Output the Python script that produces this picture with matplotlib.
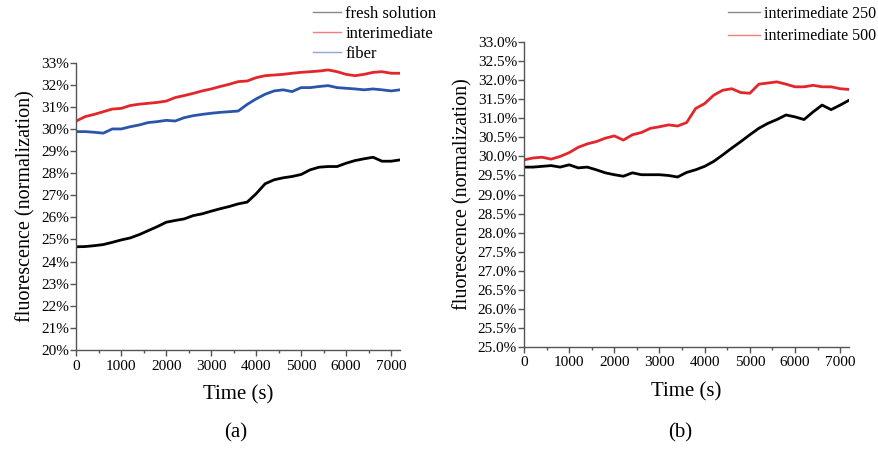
import matplotlib

matplotlib.use("Agg")

import matplotlib.pyplot as plt
from matplotlib.lines import Line2D
from matplotlib.ticker import FuncFormatter, MultipleLocator

# 数据（每 200 s 一个点，单位 %）
TIME_S = list(range(0, 7201, 200))

# 图 (a)
FRESH_SOLUTION = [24.67, 24.68, 24.72, 24.77, 24.87, 24.98, 25.07, 25.22, 25.40, 25.58,
                  25.78, 25.86, 25.93, 26.08, 26.16, 26.28, 26.39, 26.49, 26.61, 26.69,
                  27.07, 27.52, 27.70, 27.79, 27.85, 27.94, 28.15, 28.27, 28.30, 28.30,
                  28.45, 28.57, 28.65, 28.72, 28.54, 28.54, 28.60]
INTERIMEDIATE = [30.36, 30.56, 30.66, 30.78, 30.90, 30.93, 31.06, 31.12, 31.16, 31.20,
                 31.26, 31.42, 31.51, 31.61, 31.72, 31.81, 31.92, 32.02, 32.14, 32.17,
                 32.32, 32.41, 32.44, 32.47, 32.52, 32.56, 32.59, 32.62, 32.67, 32.59,
                 32.47, 32.41, 32.47, 32.56, 32.59, 32.52, 32.52]
FIBER = [29.88, 29.88, 29.85, 29.81, 30.00, 30.00, 30.10, 30.18, 30.29, 30.33,
         30.39, 30.36, 30.51, 30.60, 30.66, 30.71, 30.75, 30.78, 30.81, 31.11,
         31.36, 31.57, 31.72, 31.77, 31.69, 31.87, 31.87, 31.92, 31.96, 31.87,
         31.84, 31.81, 31.77, 31.81, 31.77, 31.72, 31.77]

# 图 (b)
INTERIMEDIATE_250 = [29.72, 29.72, 29.74, 29.76, 29.72, 29.78, 29.70, 29.72, 29.65, 29.57,
                     29.52, 29.48, 29.57, 29.52, 29.52, 29.52, 29.50, 29.46, 29.58, 29.65,
                     29.74, 29.87, 30.04, 30.22, 30.39, 30.57, 30.74, 30.87, 30.97, 31.09,
                     31.04, 30.97, 31.17, 31.35, 31.23, 31.35, 31.48]
INTERIMEDIATE_500 = [29.91, 29.96, 29.98, 29.93, 30.00, 30.10, 30.24, 30.33, 30.39, 30.48,
                     30.54, 30.43, 30.57, 30.63, 30.74, 30.78, 30.83, 30.80, 30.89, 31.26,
                     31.39, 31.61, 31.74, 31.78, 31.68, 31.66, 31.90, 31.93, 31.96, 31.90,
                     31.83, 31.83, 31.87, 31.83, 31.83, 31.78, 31.76]

SERIF = ["Liberation Serif", "DejaVu Serif"]
plt.rcParams["font.family"] = SERIF

RED = "#e3262b"
BLUE = "#2b55ab"


def style_axes(ax, ylim, ystep, fmt):
    """统一坐标轴样式：只保留左、下轴，刻度朝外。"""
    ax.set_xlim(0, 7200)
    ax.set_ylim(*ylim)
    ax.xaxis.set_major_locator(MultipleLocator(1000))
    ax.xaxis.set_minor_locator(MultipleLocator(500))
    ax.yaxis.set_major_locator(MultipleLocator(ystep))
    ax.yaxis.set_major_formatter(FuncFormatter(lambda v, _: fmt.format(v)))
    for side in ("top", "right"):
        ax.spines[side].set_visible(False)
    for side in ("left", "bottom"):
        ax.spines[side].set_color("#555555")
        ax.spines[side].set_linewidth(1.0)
    ax.tick_params(which="major", direction="out", length=4, width=1, color="#555555",
                   labelsize=11, pad=1)
    ax.tick_params(axis="x", which="major", pad=3)
    ax.tick_params(which="minor", direction="out", length=2.5, width=1, color="#555555")
    ax.set_xlabel("Time (s)", fontsize=15, labelpad=9)
    ax.set_ylabel("fluorescence (normalization)", fontsize=14.5, labelpad=4)


def main():
    fig = plt.figure(figsize=(8.79, 4.49), dpi=100)

    ax_a = fig.add_axes([0.0868, 0.2205, 0.3683, 0.640])
    ax_a.plot(TIME_S, FRESH_SOLUTION, color="black", lw=2)
    ax_a.plot(TIME_S, INTERIMEDIATE, color=RED, lw=2)
    ax_a.plot(TIME_S, FIBER, color=BLUE, lw=2)
    style_axes(ax_a, (20, 33), 1, "{:.0f}%")

    ax_b = fig.add_axes([0.5961, 0.2278, 0.370, 0.678])
    ax_b.plot(TIME_S, INTERIMEDIATE_250, color="black", lw=2)
    ax_b.plot(TIME_S, INTERIMEDIATE_500, color=RED, lw=2)
    style_axes(ax_b, (25, 33), 0.5, "{:.1f}%")

    # 图例线条在原图中颜色较浅、较细
    handles_a = [Line2D([], [], color="#888888", lw=1),
                 Line2D([], [], color="#f07d80", lw=1),
                 Line2D([], [], color="#8ea6d6", lw=1)]
    fig.legend(handles_a, ["fresh solution", "interimediate", "fiber"],
               loc="upper left", bbox_to_anchor=(313 / 879, 1 - 6 / 449),
               frameon=False, fontsize=12, handlelength=1.7, handletextpad=0.25,
               labelspacing=0.25, borderpad=0, borderaxespad=0)

    handles_b = [Line2D([], [], color="#888888", lw=1),
                 Line2D([], [], color="#f07d80", lw=1)]
    fig.legend(handles_b, ["interimediate 250", "interimediate 500"],
               loc="upper right", bbox_to_anchor=(876 / 879, 1 - 6 / 449),
               frameon=False, fontsize=11.5, handlelength=2.0, handletextpad=0.25,
               labelspacing=0.4, borderpad=0, borderaxespad=0)

    fig.text(236 / 879, 1 - 433 / 449, "(a)", ha="center", va="center", fontsize=15)
    fig.text(680 / 879, 1 - 433 / 449, "(b)", ha="center", va="center", fontsize=15)

    fig.savefig("out.png", dpi=100)
    plt.close(fig)


if __name__ == "__main__":
    main()
